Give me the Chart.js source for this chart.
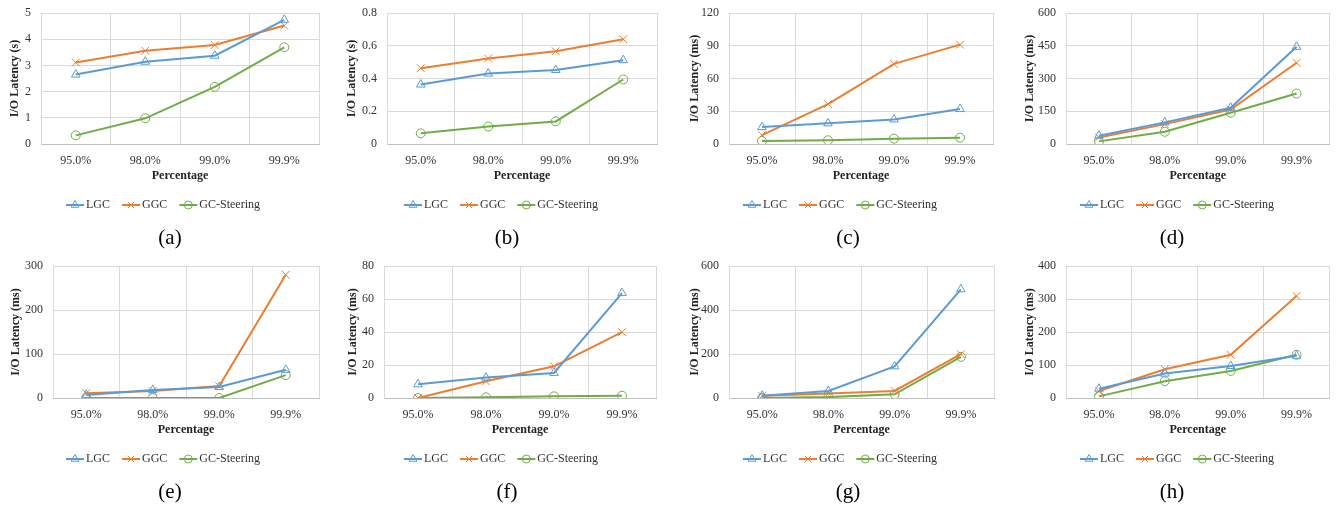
<!DOCTYPE html>
<html>
<head>
<meta charset="utf-8">
<script src="https://cdn.jsdelivr.net/npm/chart.js@4.4.1/dist/chart.umd.min.js"></script>
<style>
  html, body { margin: 0; padding: 0; background: #fff; }
  body { width: 1336px; height: 508px; position: relative; overflow: hidden; }
  .panel { position: absolute; width: 334px; height: 254px; }
  .cap { position: absolute; font-family: "Liberation Serif", "Times New Roman", serif; font-size: 21px; color: #000; transform: translate(-50%, -50%); white-space: nowrap; }
</style>
</head>
<body>
<script>
// ---- Data ----
const categories = ['95.0%', '98.0%', '99.0%', '99.9%'];
const seriesNames = ['LGC', 'GGC', 'GC-Steering'];
const captions = ['(a)', '(b)', '(c)', '(d)', '(e)', '(f)', '(g)', '(h)'];
const yTitles = ['I/O Latency (s)', 'I/O Latency (s)', 'I/O Latency (ms)', 'I/O Latency (ms)',
                 'I/O Latency (ms)', 'I/O Latency (ms)', 'I/O Latency (ms)', 'I/O Latency (ms)'];
const yMax  = [5, 0.8, 120, 600, 300, 80, 600, 400];
const yStep = [1, 0.2, 30, 150, 100, 20, 200, 100];

const lgcA = [2.65, 3.14, 3.37, 4.74];
const ggcA = [3.11, 3.56, 3.78, 4.52];
const gcsA = [0.33, 0.98, 2.18, 3.69];

const lgcB = [0.363, 0.43, 0.452, 0.512];
const ggcB = [0.463, 0.522, 0.566, 0.64];
const gcsB = [0.065, 0.107, 0.138, 0.394];

const lgcC = [15.5, 18.9, 22.5, 32];
const ggcC = [8.2, 36.5, 73.4, 91];
const gcsC = [2.7, 3.4, 4.9, 5.8];

const lgcD = [38, 99, 166, 445];
const ggcD = [30, 91, 158, 372];
const gcsD = [12, 56, 143, 231];

const lgcE = [7, 18, 25, 64];
const ggcE = [11, 16, 27, 280];
const gcsE = [0, 0, 0, 52];

const lgcF = [8.3, 12.4, 15.2, 63.6];
const ggcF = [0, 10.1, 19.2, 39.9];
const gcsF = [0, 0.4, 1, 1.4];

const lgcG = [10, 32, 144, 494];
const ggcG = [10, 20, 32, 199];
const gcsG = [0, 4, 17, 187];

const lgcH = [28, 74, 97, 128];
const ggcH = [21, 87, 131, 309];
const gcsH = [5, 51, 82, 131];

const panelSeries = [
  [lgcA, ggcA, gcsA], [lgcB, ggcB, gcsB], [lgcC, ggcC, gcsC], [lgcD, ggcD, gcsD],
  [lgcE, ggcE, gcsE], [lgcF, ggcF, gcsF], [lgcG, ggcG, gcsG], [lgcH, ggcH, gcsH]
];

// ---- Styling / layout ----
const colors = ['#5B9BD5', '#ED7D31', '#70AD47'];
const pStyles = ['triangle', 'crossRot', 'circle'];
const pRadius = [5, 5.5, 4.5];
const legendRadius = [4.5, 4.5, 4];
const FONT = '"Liberation Serif", "Times New Roman", serif';

const yAxisW  = [41, 53, 61, 64, 53, 50, 61, 64];
const rightPd = [15, 11, 9, 4, 15, 12, 8, 4];
const titlePd = [8, 11, 20, 21, 9, 12, 20, 21];
const legendCX = [163, 501, 840, 1177];
const captionX = [170, 507, 848, 1172];

Chart.defaults.font.family = FONT;
Chart.defaults.font.size = 12;
Chart.defaults.color = '#333';

const legendPlugin = {
  id: 'excelLegend',
  afterDraw(chart, args, opts) {
    const ctx = chart.ctx;
    ctx.save();
    ctx.font = '12px ' + FONT;
    ctx.textBaseline = 'middle';
    const lineLen = 18, gapT = 2, gapI = 12;
    const items = chart.data.datasets.map((d, i) => ({ d, i, w: ctx.measureText(d.label).width }));
    let total = 0;
    items.forEach((it, k) => { total += lineLen + gapT + it.w + (k < items.length - 1 ? gapI : 0); });
    let x = opts.cx - total / 2;
    const y = opts.y;
    items.forEach(it => {
      ctx.strokeStyle = it.d.borderColor;
      ctx.lineWidth = 2;
      ctx.beginPath();
      ctx.moveTo(x, y);
      ctx.lineTo(x + lineLen, y);
      ctx.stroke();
      ctx.lineWidth = 1;
      ctx.fillStyle = 'rgba(0,0,0,0)';
      Chart.helpers.drawPoint(ctx, { pointStyle: it.d.pointStyle, radius: legendRadius[it.i], rotation: 0, borderWidth: 1 }, x + lineLen / 2, y);
      ctx.fillStyle = '#333';
      ctx.textAlign = 'left';
      ctx.fillText(it.d.label, x + lineLen + gapT, y);
      x += lineLen + gapT + it.w + gapI;
    });
    ctx.restore();
  }
};

for (let p = 0; p < 8; p++) {
  const col = p % 4, row = Math.floor(p / 4);
  const div = document.createElement('div');
  div.className = 'panel';
  div.style.left = (col * 334) + 'px';
  div.style.top = (row * 254) + 'px';
  const cv = document.createElement('canvas');
  cv.width = 334; cv.height = 254;
  cv.style.width = '334px'; cv.style.height = '254px';
  div.appendChild(cv);
  document.body.appendChild(div);

  const cap = document.createElement('div');
  cap.className = 'cap';
  cap.textContent = captions[p];
  cap.style.left = captionX[col] + 'px';
  cap.style.top = (row * 254 + 237) + 'px';
  document.body.appendChild(cap);

  const topPad = row === 0 ? 13 : 12;
  const datasets = seriesNames.map((name, i) => ({
    label: name,
    data: panelSeries[p][i],
    borderColor: colors[i],
    borderWidth: 2,
    pointStyle: pStyles[i],
    pointRadius: pRadius[i],
    pointBorderWidth: 1,
    pointBorderColor: colors[i],
    pointBackgroundColor: 'rgba(0,0,0,0)',
    tension: 0,
    fill: false
  }));

  new Chart(cv, {
    type: 'line',
    data: { labels: categories, datasets },
    options: {
      responsive: false,
      animation: false,
      devicePixelRatio: 1,
      layout: { padding: { top: topPad, right: rightPd[p], left: 0, bottom: 254 - 144 - 41 } },
      plugins: {
        legend: { display: false },
        tooltip: { enabled: false },
        excelLegend: { cx: legendCX[col] - col * 334, y: 205 }
      },
      scales: {
        x: {
          type: 'category',
          offset: true,
          grid: { offset: true, color: '#d9d9d9', drawTicks: false },
          border: { color: '#bfbfbf' },
          ticks: { padding: 10, maxRotation: 0, color: '#333', font: { size: 12 } },
          title: { display: true, text: 'Percentage', font: { size: 12, weight: 'bold' }, color: '#222', padding: { top: 0, bottom: 2 } },
          afterFit: s => { s.height = 41; s.paddingLeft = 0; s.paddingRight = 0; }
        },
        y: {
          min: 0, max: yMax[p],
          ticks: { stepSize: yStep[p], padding: 10, color: '#333', font: { size: 12 } },
          grid: { color: '#d9d9d9', drawTicks: false },
          border: { color: '#d9d9d9' },
          title: { display: true, text: yTitles[p], font: { size: 12, weight: 'bold' }, color: '#222', padding: { top: titlePd[p], bottom: 0 } },
          afterFit: s => { s.width = yAxisW[p]; s.paddingTop = 6; s.paddingBottom = 6; }
        }
      }
    },
    plugins: [legendPlugin]
  });
}
</script>
</body>
</html>
